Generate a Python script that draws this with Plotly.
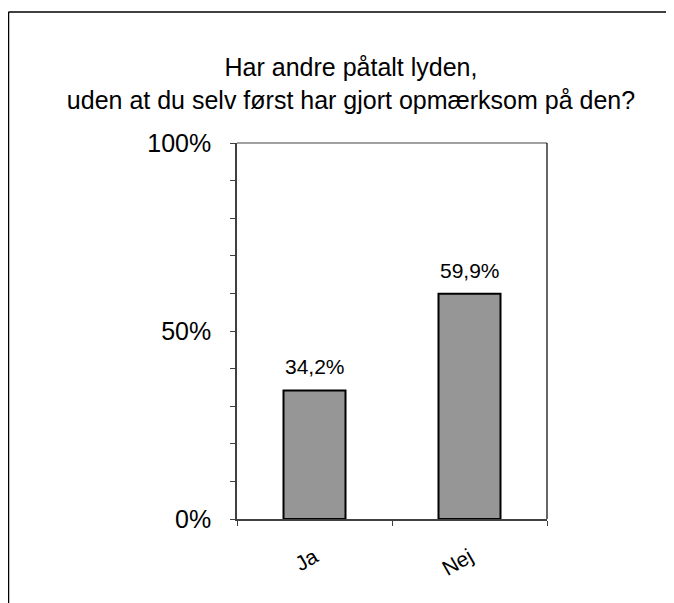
import plotly.graph_objects as go

categories = ["Ja", "Nej"]
values = [34.2, 59.9]
y_tick_vals = [0, 10, 20, 30, 40, 50, 60, 70, 80, 90, 100]
y_tick_text = ["0%", "", "", "", "", "50%", "", "", "", "", "100%"]
title_text = "Har andre påtalt lyden,<br>uden at du selv først har gjort opmærksom på den?"

FONT = "Liberation Sans, Arial, sans-serif"

# page offset (browser body margin)
OFF = 8
W, H = 674 - OFF, 603 - OFF
L, R, T, B = 237 - OFF, 547 - OFF, 143 - OFF, 519 - OFF
pw, ph = R - L, B - T


def px(x):
    return (x - OFF - L) / pw


def py(y):
    return (B - (y - OFF)) / ph


fig = go.Figure()
fig.add_trace(go.Bar(
    x=categories, y=values, width=0.4,
    marker=dict(color="#969696", line=dict(color="#000000", width=2)),
    hoverinfo="skip",
))

# value labels above bars
for c, v in zip(categories, values):
    fig.add_annotation(x=c, y=v, xref="x", yref="y", yanchor="bottom",
                       text=(f"{v:.1f}%").replace(".", ","), showarrow=False,
                       yshift=10, font=dict(size=21, color="#000000", family=FONT))

shapes = [
    # plot frame top (gray) and right (black)
    dict(type="line", xref="paper", yref="paper", x0=0, x1=1, y0=1, y1=1,
         line=dict(color="#808080", width=1.5)),
    dict(type="line", xref="paper", yref="paper", x0=1, x1=1, y0=0, y1=1,
         line=dict(color="#000000", width=1.2)),
    # outer chart border
    dict(type="line", xref="paper", yref="paper", x0=px(8.5), x1=px(668), y0=py(12), y1=py(12),
         line=dict(color="#000000", width=1.5)),
    dict(type="line", xref="paper", yref="paper", x0=px(8.5), x1=px(8.5), y0=py(12), y1=py(603),
         line=dict(color="#000000", width=1.5)),
    dict(type="line", xref="paper", yref="paper", x0=px(668), x1=px(668), y0=py(12), y1=py(290),
         line=dict(color="#000000", width=1.5)),
]

fig.update_layout(
    width=W, height=H,
    margin=dict(l=L, r=W - R, t=T, b=H - B, pad=0),
    paper_bgcolor="#ffffff", plot_bgcolor="#ffffff",
    showlegend=False,
    font=dict(family=FONT, color="#000000"),
    title=dict(text=title_text, x=(351 - OFF) / W, xref="container", xanchor="center",
               y=1 - (76 - OFF) / H, yref="container", yanchor="middle",
               font=dict(size=25, family=FONT, color="#000000")),
    shapes=shapes,
    xaxis=dict(range=[-0.5, 1.5], showgrid=False, zeroline=False,
               showline=True, linecolor="#404040", linewidth=1.5,
               ticks="outside", tickson="boundaries", ticklen=5,
               tickcolor="#404040", tickwidth=1.2,
               tickangle=-30, ticklabelstandoff=16,
               tickfont=dict(size=21, family=FONT, color="#000000"),
               fixedrange=True),
    yaxis=dict(range=[0, 100], showgrid=False, zeroline=False,
               showline=True, linecolor="#404040", linewidth=1.5,
               tickmode="array", tickvals=y_tick_vals, ticktext=y_tick_text,
               ticks="outside", ticklen=5, tickcolor="#404040", tickwidth=1.2,
               ticklabelstandoff=14,
               tickfont=dict(size=25, family=FONT, color="#000000"),
               fixedrange=True),
)

fig.write_html("out.html")
